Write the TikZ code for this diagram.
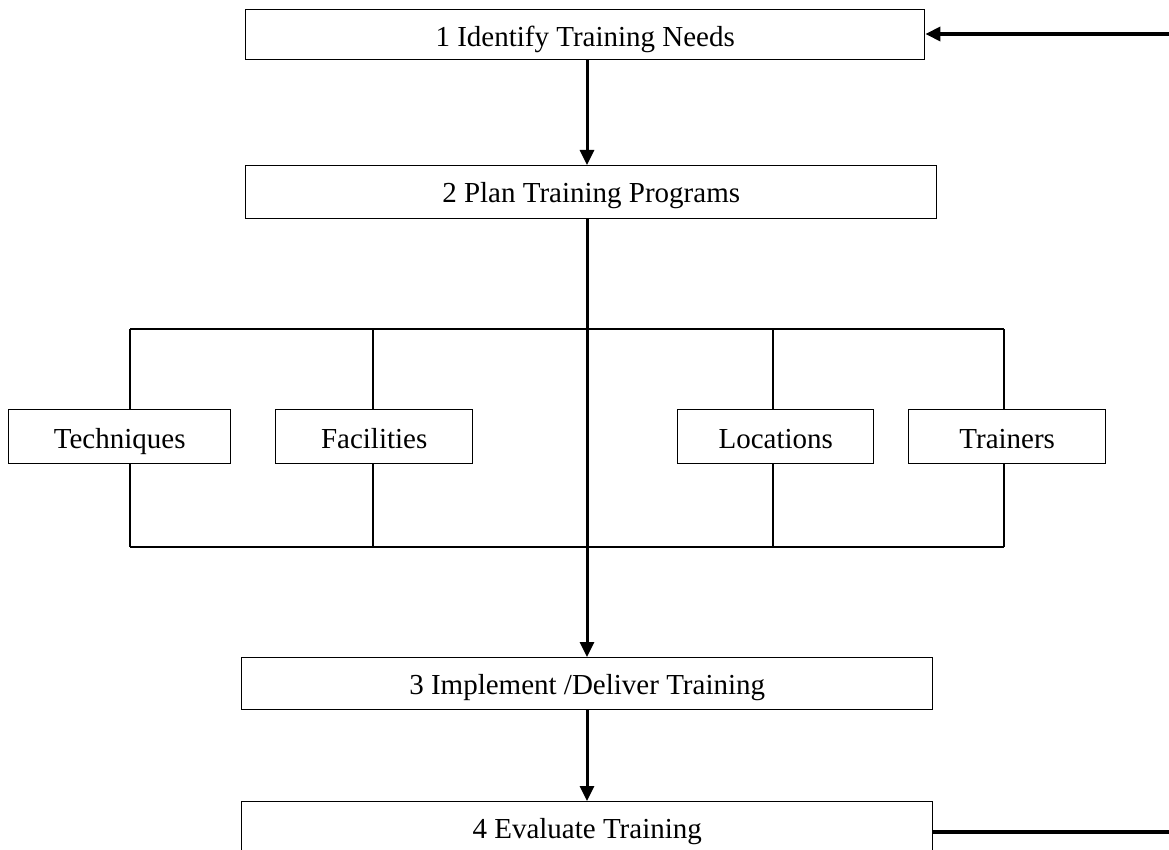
\documentclass[tikz,border=0pt]{standalone}
\usepackage{fontspec}
\setmainfont{Liberation Serif}
\usetikzlibrary{arrows.meta,calc}
\tikzset{
  stage/.style={draw, line width=1.4pt, fill=white, anchor=north west, inner xsep=0pt, inner ysep=0pt,
    font=\fontsize{29}{34}\selectfont, text height=37pt, text depth=#1},
  stage/.default=15pt,
  item/.style={draw, line width=1.4pt, fill=white, anchor=north west, inner xsep=0pt, inner ysep=0pt,
    font=\fontsize{29}{34}\selectfont, text height=39pt, text depth=15pt},
  flow/.style={line width=3pt, -{Triangle[length=15pt,width=14pt]}},
  thickline/.style={line width=3.5pt},
  brace/.style={line width=2.2pt},
  tie/.style={line width=1.8pt}
}
\begin{document}
\begin{tikzpicture}[x=1pt,y=-1pt]
\useasboundingbox (0,0) rectangle (1169,850);

% bracket frame corners
\coordinate (bTL) at (130,329);
\coordinate (bTR) at (1004,329);
\coordinate (bBL) at (130,547);
\coordinate (bBR) at (1004,547);
\coordinate (bTa) at (373,329);
\coordinate (bBa) at (373,547);
\coordinate (bTb) at (773,329);
\coordinate (bBb) at (773,547);

% main stages
\node[stage=13pt, minimum width=679pt] (s1) at (245,9) {1 Identify Training Needs};
\node[stage=16pt, minimum width=691pt] (s2) at (245,165) {2 Plan Training Programs};
\node[stage=15pt, minimum width=691pt] (s3) at (241,657) {3 Implement /Deliver Training};
\node[stage=25pt, minimum width=691pt] (s4) at (241,801) {4 Evaluate Training};

% planning items
\node[item, minimum width=222pt] (tech) at (8,409) {Techniques};
\node[item, minimum width=197pt] (fac) at (275,409) {Facilities};
\node[item, minimum width=196pt] (loc) at (677,409) {Locations};
\node[item, minimum width=197pt] (trn) at (908,409) {Trainers};

\coordinate (spine) at (587,0);
\coordinate (fbR) at (1169,34);
\coordinate (fbB) at (1169,832);

% bracket
\draw[brace] (bTL) -- (bTR);
\draw[brace] (bBL) -- (bBR);
\draw[tie] (bTL) -- (tech.north -| bTL);
\draw[tie] (tech.south -| bBL) -- (bBL);
\draw[tie] (bTa) -- (fac.north -| bTa);
\draw[tie] (fac.south -| bBa) -- (bBa);
\draw[tie] (bTb) -- (loc.north -| bTb);
\draw[tie] (loc.south -| bBb) -- (bBb);
\draw[tie] (bTR) -- (trn.north -| bTR);
\draw[tie] (trn.south -| bBR) -- (bBR);

% flow arrows
\draw[flow] (s1.south -| spine) -- (s2.north -| spine);
\draw[flow] (s2.south -| spine) -- (s3.north -| spine);
\draw[flow] (s3.south -| spine) -- (s4.north -| spine);

% feedback
\draw[thickline] (s4.east |- fbB) -- (fbB);
\draw[flow, line width=3.5pt] (fbR) -- (s1.east |- fbR);

\end{tikzpicture}
\end{document}
